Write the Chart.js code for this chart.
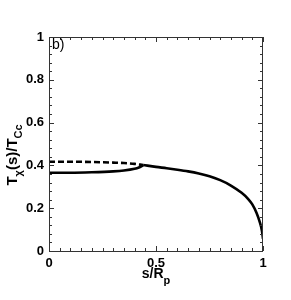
<!DOCTYPE html>
<html>
<head>
<meta charset="utf-8">
<script src="https://cdn.jsdelivr.net/npm/chart.js@4/dist/chart.umd.min.js"></script>
<style>
  html, body { margin: 0; padding: 0; background: #fff; }
  #wrap { width: 291px; height: 300px; }
</style>
</head>
<body>
<div id="wrap"><canvas id="chart" width="291" height="300"></canvas></div>
<script>
// values (s/Rp vs T/Tcc)
const sLower = [0, 0.1, 0.2, 0.3, 0.35, 0.4, 0.42, 0.44];
const tLower = [0.366, 0.366, 0.368, 0.372, 0.376, 0.384, 0.39, 0.4];

const sUpper = [0.44, 0.5, 0.55, 0.6, 0.65, 0.7, 0.75, 0.8, 0.85, 0.9, 0.93, 0.95, 0.97, 0.985, 0.995, 1.0];
const tUpper = [0.402, 0.393, 0.387, 0.38, 0.372, 0.362, 0.349, 0.331, 0.306, 0.272, 0.244, 0.218, 0.178, 0.135, 0.095, 0.057];

const sDashed = [0, 0.1, 0.2, 0.3, 0.35, 0.4, 0.44];
const tDashed = [0.417, 0.417, 0.416, 0.413, 0.411, 0.407, 0.402];

const xTicks = [0, 0.5, 1];
const yTicks = [0, 0.2, 0.4, 0.6, 0.8, 1];

const FONT = '"Liberation Sans", Arial, Helvetica, sans-serif';

function toPoints(xs, ys) {
    return xs.map(function (x, i) { return { x: x, y: ys[i] }; });
}

function lineSet(xs, ys, dash) {
    return {
        data: toPoints(xs, ys),
        showLine: true,
        borderColor: '#000',
        borderWidth: 2.6,
        borderDash: dash || [],
        pointRadius: 0,
        cubicInterpolationMode: 'monotone',
        fill: false
    };
}

// frame, inward ticks, axis titles and panel label
const framePlugin = {
    id: 'frame',
    afterDraw: function (chart) {
        const ctx = chart.ctx;
        const a = chart.chartArea;
        const xs = chart.scales.x, ys = chart.scales.y;
        ctx.save();
        ctx.strokeStyle = '#333';
        ctx.lineWidth = 1;
        ctx.strokeRect(Math.round(a.left) + 0.5, Math.round(a.top) + 0.5,
            Math.round(a.right - a.left) - 1, Math.round(a.bottom - a.top));

        ctx.beginPath();
        for (let v = 0; v <= 1.0001; v += 0.05) {
            const major = Math.abs(v * 2 - Math.round(v * 2)) < 1e-6;
            const len = major ? 5 : 3;
            const px = Math.round(xs.getPixelForValue(v)) + 0.5;
            ctx.moveTo(px, a.bottom); ctx.lineTo(px, a.bottom - len);
            ctx.moveTo(px, a.top); ctx.lineTo(px, a.top + len);
        }
        for (let v = 0; v <= 1.0001; v += 0.04) {
            const major = Math.abs(v * 5 - Math.round(v * 5)) < 1e-6;
            const len = major ? 5 : 3;
            const py = Math.round(ys.getPixelForValue(v)) + 0.5;
            ctx.moveTo(a.left, py); ctx.lineTo(a.left + len, py);
            ctx.moveTo(a.right, py); ctx.lineTo(a.right - len, py);
        }
        ctx.stroke();

        ctx.fillStyle = '#000';
        // panel label
        ctx.font = '14px ' + FONT;
        ctx.textAlign = 'left';
        ctx.textBaseline = 'top';
        ctx.fillText('b)', a.left + 3, a.top + 1);

        // x title: s/R_p
        ctx.textBaseline = 'alphabetic';
        const cx = (a.left + a.right) / 2;
        ctx.font = 'bold 14px ' + FONT;
        const main = 's/R';
        const w1 = ctx.measureText(main).width;
        ctx.font = 'bold 11px ' + FONT;
        const w2 = ctx.measureText('p').width;
        let x0 = cx - (w1 + w2) / 2;
        ctx.font = 'bold 14px ' + FONT;
        ctx.fillText(main, x0, 278);
        ctx.font = 'bold 11px ' + FONT;
        ctx.fillText('p', x0 + w1, 284);

        // y title: T_chi(s)/T_Cc, rotated
        const parts = [
            { t: 'T', sub: false },
            { t: '\u03c7', sub: true },
            { t: '(s)/T', sub: false },
            { t: 'Cc', sub: true }
        ];
        let total = 0;
        parts.forEach(function (p) {
            ctx.font = (p.sub ? 'bold 11px ' : 'bold 15px ') + FONT;
            p.w = ctx.measureText(p.t).width;
            total += p.w;
        });
        ctx.translate(17, (a.top + a.bottom) / 2 + 11);
        ctx.rotate(-Math.PI / 2);
        let pos = -total / 2;
        parts.forEach(function (p) {
            ctx.font = (p.sub ? 'bold 11px ' : 'bold 15px ') + FONT;
            ctx.fillText(p.t, pos, p.sub ? 5 : 0);
            pos += p.w;
        });
        ctx.restore();
    }
};

new Chart(document.getElementById('chart').getContext('2d'), {
    type: 'scatter',
    data: {
        datasets: [
            lineSet(sLower, tLower),
            lineSet(sUpper, tUpper),
            lineSet(sDashed, tDashed, [6, 3])
        ]
    },
    options: {
        responsive: false,
        animation: false,
        layout: { padding: { top: 37, right: 28, left: 0, bottom: 0 } },
        plugins: { legend: { display: false }, tooltip: { enabled: false } },
        scales: {
            x: {
                type: 'linear', min: 0, max: 1,
                afterFit: function (s) { s.height = 49; },
                afterBuildTicks: function (s) { s.ticks = xTicks.map(function (v) { return { value: v }; }); },
                grid: { display: false, drawTicks: false },
                border: { display: false },
                ticks: {
                    padding: 5, color: '#000',
                    font: { family: FONT, size: 13, weight: 'bold' },
                    maxRotation: 0,
                    callback: function (v) { return String(v); }
                }
            },
            y: {
                type: 'linear', min: 0, max: 1,
                afterFit: function (s) { s.width = 49; },
                afterBuildTicks: function (s) { s.ticks = yTicks.map(function (v) { return { value: v }; }); },
                grid: { display: false, drawTicks: false },
                border: { display: false },
                ticks: {
                    padding: 5, color: '#000',
                    font: { family: FONT, size: 13, weight: 'bold' },
                    callback: function (v) { return String(v); }
                }
            }
        }
    },
    plugins: [framePlugin]
});
</script>
</body>
</html>
